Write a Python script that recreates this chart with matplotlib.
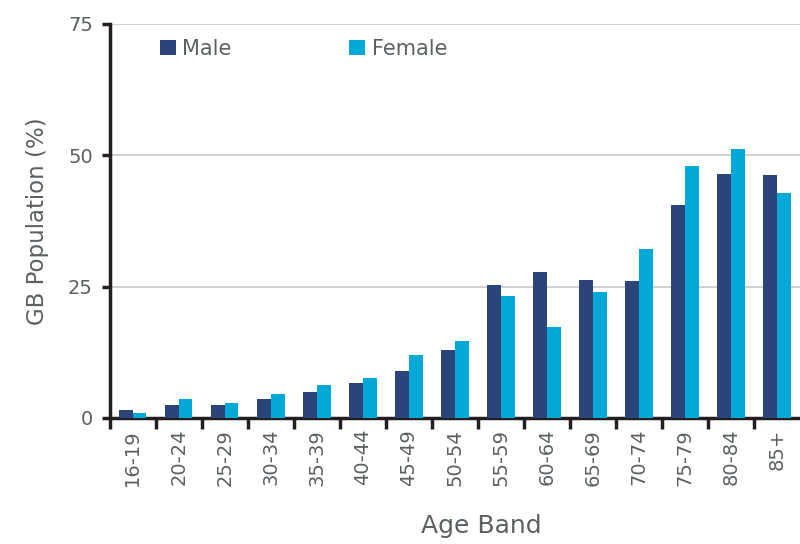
import numpy as np
import matplotlib
matplotlib.use('Agg')
import matplotlib.pyplot as plt

# age bands and share of GB population (%)
age_bands = ['16-19', '20-24', '25-29', '30-34', '35-39', '40-44', '45-49',
             '50-54', '55-59', '60-64', '65-69', '70-74', '75-79', '80-84',
             '85+']
male = [1.4, 2.5, 2.5, 3.5, 5.0, 6.7, 9.0, 13.0, 25.2, 27.7, 26.3, 26.0,
        40.6, 46.5, 46.2]
female = [1.0, 3.5, 2.9, 4.6, 6.2, 7.5, 11.9, 14.7, 23.1, 17.2, 24.0, 32.1,
          47.9, 51.1, 42.9]

plt.rcParams['font.family'] = ['DejaVu Sans']
text_col = '#5b6063'
axis_col = '#231f20'

fig = plt.figure(figsize=(8, 5.44), dpi=100)
ax = fig.add_axes([0.137, 0.232, 0.863, 0.724])

x = np.arange(len(age_bands))
w = 0.3
ax.bar(x - w/2, male, w, color='#29457a', label='Male', zorder=3)
ax.bar(x + w/2, female, w, color='#00a9d8', label='Female', zorder=3)

ax.set_xlim(-0.5, len(age_bands) - 0.5)
ax.set_ylim(0, 75)
ax.set_yticks([0, 25, 50, 75])
ax.yaxis.grid(True, color='#c8c8c8', linewidth=1.2, zorder=0)

# ticks on category boundaries, labels in the middle
ax.set_xticks(np.arange(len(age_bands)) - 0.5)
ax.set_xticklabels([])
ax.set_xticks(x, minor=True)
ax.set_xticklabels(age_bands, minor=True, rotation=90, fontsize=14,
                   color=text_col)
ax.tick_params(axis='x', which='major', length=8, width=2.5, color=axis_col)
ax.tick_params(axis='x', which='minor', length=0, pad=8)
ax.tick_params(axis='y', length=6, width=2.5, color=axis_col,
               labelsize=14, labelcolor=text_col, pad=6)

for s in ['top', 'right']:
    ax.spines[s].set_visible(False)
for s in ['left', 'bottom']:
    ax.spines[s].set_linewidth(2.5)
    ax.spines[s].set_color(axis_col)

ax.set_ylabel('GB Population (%)', fontsize=16.5, color=text_col, labelpad=14)
ax.set_xlabel('Age Band', fontsize=18, color=text_col, labelpad=20, x=0.539)

ax.legend(loc='upper left', bbox_to_anchor=(0.073, 0.962), ncol=2,
          frameon=False, fontsize=15, handlelength=0.77, handleheight=0.72,
          handletextpad=0.3, columnspacing=5.65, borderpad=0,
          borderaxespad=0, labelcolor=text_col)

fig.savefig('out.png', dpi=100)
